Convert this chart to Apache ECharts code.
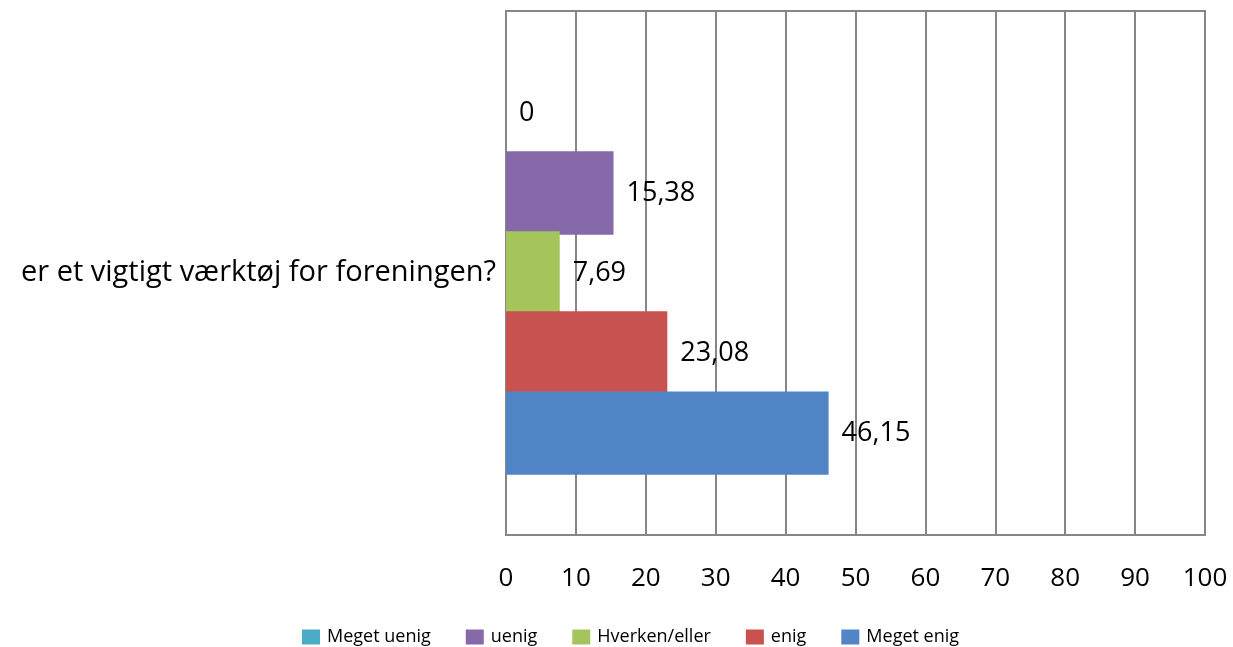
<!DOCTYPE html>
<html>
<head>
<meta charset="utf-8">
<script src="https://cdn.jsdelivr.net/npm/echarts@6/dist/echarts.min.js"></script>
<style>html,body{margin:0;padding:0;background:#fff;}#c{width:1233px;height:647px;}</style>
</head>
<body>
<div id="c"></div>
<script>
const categories = ['er et vigtigt værktøj for foreningen?'];
const seriesNames = ['Meget uenig', 'uenig', 'Hverken/eller', 'enig', 'Meget enig'];
const seriesValues = [[0], [15.38], [7.69], [23.08], [46.15]];
const seriesColors = ['#4BACC6', '#8669A8', '#A5C45B', '#C8524F', '#5185C5'];
const xTicks = { min: 0, max: 100, interval: 10 };

const FONT = '"Open Sans", "Noto Sans", sans-serif';
const chart = echarts.init(document.getElementById('c'), null, { renderer: 'canvas' });
chart.setOption({
  animation: false,
  backgroundColor: '#fff',
  grid: { left: 506, right: 28, top: 11, bottom: 112, containLabel: false, show: true, borderColor: '#868686', borderWidth: 2 },
  legend: {
    data: seriesNames,
    top: 628,
    left: 302,
    padding: 0,
    itemWidth: 18, itemHeight: 15, itemGap: 35,
    icon: 'rect',
    textStyle: { fontFamily: FONT, fontSize: 18, color: '#000', padding: [0, 0, 0, 2] }
  },
  xAxis: {
    type: 'value', min: xTicks.min, max: xTicks.max, interval: xTicks.interval,
    axisLine: { show: true, lineStyle: { color: '#868686', width: 2 } },
    axisTick: { show: false },
    splitLine: { show: true, lineStyle: { color: '#868686', width: 2 } },
    axisLabel: { fontFamily: FONT, fontSize: 26, color: '#000', margin: 31 }
  },
  yAxis: {
    type: 'category', data: categories,
    axisLine: { show: true, lineStyle: { color: '#868686', width: 2 } },
    axisTick: { show: false },
    axisLabel: { fontFamily: FONT, fontSize: 29, color: '#000', margin: 10 }
  },
  series: seriesNames.map((name, i) => ({
    name, type: 'bar', data: seriesValues[i],
    barGap: '-4%', barCategoryGap: '23%',
    itemStyle: { color: seriesColors[i] },
    label: {
      show: true, position: 'right', distance: 13,
      fontFamily: FONT, fontSize: 27, color: '#000',
      formatter: p => String(p.value).replace('.', ',')
    }
  }))
});
</script>
</body>
</html>
